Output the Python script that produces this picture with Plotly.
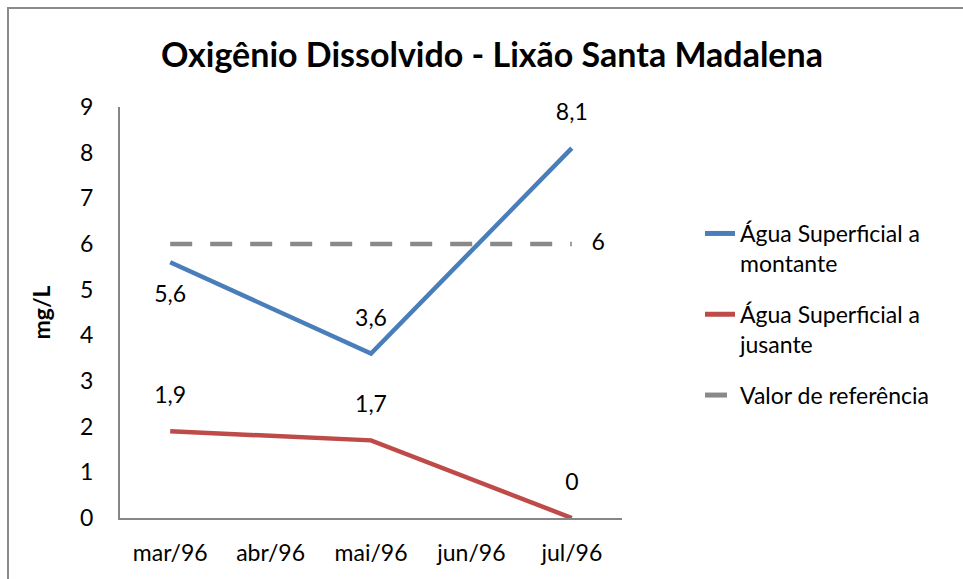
import plotly.graph_objects as go

categories = ["mar/96", "abr/96", "mai/96", "jun/96", "jul/96"]
montante = [5.6, None, 3.6, None, 8.1]
jusante = [1.9, None, 1.7, None, 0]
referencia = [6, 6, 6, 6, 6]
y_ticks = [0, 1, 2, 3, 4, 5, 6, 7, 8, 9]

FONT = "Lato"
W, H = 963, 579
L, R, T, B = 120, 341, 107, 61
pw, ph = W - L - R, H - T - B
FS = 23


def fmt(v):
    if v is None:
        return ""
    s = ("%g" % v)
    return s.replace(".", ",")


def px_x(p):
    return (p - L) / pw


def px_y(p):
    return (H - B - p) / ph


GHOST = dict(size=34, color="rgba(0,0,0,0)", line=dict(width=0))

fig = go.Figure()

fig.add_trace(go.Scatter(
    x=categories, y=montante, name="Água Superficial a<br>montante",
    legendgroup="a",
    mode="lines+markers+text", connectgaps=True,
    line=dict(color="#4A7EBB", width=4.5),
    marker=GHOST,
    text=[fmt(v) for v in montante],
    textposition=["bottom center", "top center", "top center", "top center", "top center"],
    textfont=dict(family=FONT, size=FS, color="#000000"),
    cliponaxis=False,
))
fig.add_trace(go.Scatter(
    x=categories, y=jusante, name="Água Superficial a<br>jusante",
    legendgroup="b",
    mode="lines+markers+text", connectgaps=True,
    line=dict(color="#BE4B48", width=4.5),
    marker=GHOST,
    text=[fmt(v) for v in jusante],
    textposition="top center",
    textfont=dict(family=FONT, size=FS, color="#000000"),
    cliponaxis=False,
))
fig.add_trace(go.Scatter(
    x=categories, y=referencia, name="Valor de referência",
    legendgroup="c",
    mode="lines+markers+text",
    line=dict(color="#898989", width=4.5, dash="22px,18px"),
    marker=dict(size=[0, 0, 0, 0, 30], color="rgba(0,0,0,0)", line=dict(width=0)),
    text=["", "", "", "", fmt(referencia[-1])],
    textposition="middle right",
    textfont=dict(family=FONT, size=FS, color="#000000"),
    cliponaxis=False,
))

fig.update_layout(
    width=W, height=H,
    margin=dict(l=L, r=R, t=T, b=B),
    paper_bgcolor="white", plot_bgcolor="white",
    font=dict(family=FONT, size=FS, color="#000000"),
    separators=",.",
    title=dict(text="<b>Oxigênio Dissolvido - Lixão Santa Madalena</b>",
               font=dict(family=FONT, size=34, color="#000000"),
               x=492 / W, xanchor="center", xref="container",
               y=1 - 55 / H, yanchor="middle", yref="container"),
    showlegend=True,
    legend=dict(x=px_x(700), y=px_y(212), xanchor="left", yanchor="top",
                font=dict(family=FONT, size=FS, color="#000000"),
                valign="top", tracegroupgap=18, bgcolor="rgba(0,0,0,0)",
                itemsizing="constant"),
    xaxis=dict(type="category", categoryorder="array", categoryarray=categories,
               range=[-0.5, 4.5], showgrid=False, zeroline=False,
               showline=True, linecolor="#868686", linewidth=2,
               ticks="", ticklabelstandoff=13,
               tickfont=dict(family=FONT, size=FS, color="#000000"),
               fixedrange=True),
    yaxis=dict(range=[0, 9], tickvals=y_ticks, showgrid=False, zeroline=False,
               showline=True, linecolor="#868686", linewidth=2,
               ticks="", ticklabelstandoff=20,
               tickfont=dict(family=FONT, size=FS, color="#000000"),
               fixedrange=True),
    annotations=[dict(text="<b>mg/L</b>", textangle=-90, x=px_x(40), y=0.5,
                      xref="paper", yref="paper", showarrow=False,
                      xanchor="center", yanchor="middle",
                      font=dict(family=FONT, size=FS, color="#000000"))],
    shapes=[dict(type="rect", xref="paper", yref="paper",
                 x0=px_x(8), x1=px_x(990), y0=px_y(600), y1=px_y(8),
                 line=dict(color="#8A8A8A", width=2), fillcolor="rgba(0,0,0,0)",
                 layer="below")],
)

fig.write_html("out.html",
               config={"displayModeBar": False, "staticPlot": True},
               post_script="document.body.style.margin='0';document.body.style.overflow='hidden';")
